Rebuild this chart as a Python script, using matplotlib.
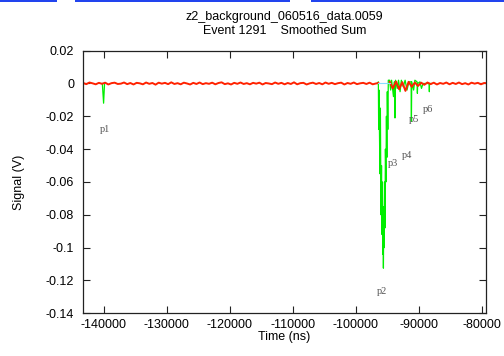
import matplotlib
matplotlib.use("Agg")
import matplotlib.pyplot as plt
from matplotlib.patches import Rectangle

plt.rcParams["font.family"] = ["Liberation Sans", "DejaVu Sans"]

# smoothed sum, baseline part before the pulse (ns, V)
red_t_left = [-143300, -142800, -142300, -141800, -141300, -140800, -140300, -139800, -139300, -138800,
              -138300, -137800, -137300, -136800, -136300, -135800, -135300, -134800, -134300, -133800,
              -133300, -132800, -132300, -131800, -131300, -130800, -130300, -129800, -129300, -128800,
              -128300, -127800, -127300, -126800, -126300, -125800, -125300, -124800, -124300, -123800,
              -123300, -122800, -122300, -121800, -121300, -120800, -120300, -119800, -119300, -118800,
              -118300, -117800, -117300, -116800, -116300, -115800, -115300, -114800, -114300, -113800,
              -113300, -112800, -112300, -111800, -111300, -110800, -110300, -109800, -109300, -108800,
              -108300, -107800, -107300, -106800, -106300, -105800, -105300, -104800, -104300, -103800,
              -103300, -102800, -102300, -101800, -101300, -100800, -100300, -99800, -99300, -98800,
              -98300, -97800, -97300, -96800, -96400]
red_v_left = [0.0003, -0.0004, 0.0006, 0.0001, -0.0005, 0.0004, -0.0002, 0.0005, -0.0006, 0.0002,
              0.0005, -0.0003, -0.0001, 0.0006, -0.0004, 0.0003, -0.0006, 0.0004, 0.0001, -0.0005,
              0.0006, -0.0002, 0.0003, -0.0007, 0.0005, -0.0001, 0.0004, -0.0004, 0.0007, -0.0003,
              0.0002, -0.0005, 0.0005, 0.0000, -0.0006, 0.0004, -0.0003, 0.0006, -0.0004, 0.0002,
              -0.0002, 0.0005, -0.0005, 0.0003, 0.0007, -0.0004, 0.0001, -0.0006, 0.0004, -0.0002,
              0.0006, -0.0003, 0.0002, -0.0005, 0.0004, -0.0001, 0.0005, -0.0006, 0.0003, 0.0000,
              -0.0004, 0.0006, -0.0002, 0.0004, -0.0005, 0.0003, -0.0003, 0.0007, -0.0005, 0.0002,
              0.0004, -0.0006, 0.0001, 0.0005, -0.0003, 0.0003, -0.0005, 0.0006, -0.0002, 0.0004,
              -0.0004, 0.0002, 0.0005, -0.0006, 0.0003, -0.0002, 0.0006, -0.0004, 0.0001, 0.0004,
              -0.0003, 0.0005, -0.0005, 0.0000, 0.0003]

# smoothed sum after the pulse
red_t_right = [-94600, -94100, -93600, -93100, -92600, -92100, -91600, -91100, -90600, -90100,
               -89600, -89100, -88600, -88100, -87600, -87100, -86600, -86100, -85600, -85100,
               -84600, -84100, -83600, -83100, -82600, -82100, -81600, -81100, -80600, -80100,
               -79600, -79300]
red_v_right = [0.0010, -0.0030, 0.0012, -0.0035, 0.0008, -0.0045, 0.0010, -0.0020, 0.0006, -0.0015,
               0.0005, -0.0008, 0.0006, -0.0004, 0.0005, -0.0006, 0.0003, -0.0002, 0.0006, -0.0005,
               0.0004, -0.0003, 0.0006, -0.0004, 0.0002, -0.0006, 0.0005, -0.0001, 0.0004, -0.0005,
               0.0003, 0.0002]

# baseline segment under the pulse
cyan_t = [-96400, -94600]
cyan_v = [0.0, 0.0]

# pulse p1
p1_t = [-140250, -140050, -139900]
p1_v = [0.0, -0.012, 0.0]

# main pulse train (p2 .. p6)
pulse_t = [-96600, -96400, -96350, -96300, -96150, -96080, -95980, -95900, -95820, -95760,
           -95700, -95650, -95600, -95550, -95480, -95420, -95350, -95280, -95200, -95120,
           -95050, -94980, -94900, -94820, -94600, -94450, -94300, -94000, -93850, -93760,
           -93680, -93400, -93200, -92950, -92750, -92450, -92150, -91850, -91550, -91200,
           -91150, -91100, -90800, -90600, -90250, -90200, -90150, -89800, -89550, -89300,
           -88320, -88300, -88280, -88000]
pulse_v = [0.0, 0.001, -0.028, -0.004, -0.055, -0.015, -0.080, -0.050, -0.092, -0.060,
           -0.104, -0.075, -0.1125, -0.085, -0.100, -0.060, -0.088, -0.040, -0.060, -0.020,
           -0.045, -0.005, -0.028, 0.002, 0.002, -0.004, 0.002, -0.008, 0.001, -0.021,
           0.002, -0.003, 0.002, -0.005, 0.002, -0.002, 0.002, -0.004, 0.001, 0.001,
           -0.023, 0.001, -0.004, 0.002, 0.001, -0.006, 0.0, 0.001, -0.003, 0.0,
           0.0, -0.005, 0.0, 0.0]

labels = ["p1", "p2", "p3", "p4", "p5", "p6"]
label_t = [-139900, -95900, -94100, -91800, -90750, -88450]
label_v = [-0.028, -0.127, -0.049, -0.044, -0.022, -0.016]

fig = plt.figure(figsize=(5.04, 3.56), dpi=100)
ax = fig.add_axes([0.1637, 0.1199, 0.8006, 0.7378])

# window bar along the top edge
for x0, w in [(0, 57), (75, 215), (311, 193)]:
    fig.patches.append(Rectangle((x0 / 504, 1 - 2 / 356), w / 504, 2 / 356,
                                 transform=fig.transFigure, color="#2244ee", lw=0))

ax.plot(p1_t, p1_v, color="#00ee00", lw=0.9)
ax.plot(pulse_t, pulse_v, color="#00ee00", lw=0.9)
ax.plot(red_t_left, red_v_left, color="#ff2200", lw=1.4)
ax.plot(red_t_right, red_v_right, color="#ff2200", lw=1.4)
ax.plot(cyan_t, cyan_v, color="#88ddff", lw=0.8)

for lab, t, v in zip(labels, label_t, label_v):
    ax.text(t, v, lab, ha="center", va="center", fontsize=7.5,
            family=["Liberation Serif", "DejaVu Serif"], color="#555555")

ax.set_xlim(-143400, -79300)
ax.set_ylim(-0.14, 0.02)
ax.set_xticks([-140000, -130000, -120000, -110000, -100000, -90000, -80000])
ax.set_yticks([0.02, 0, -0.02, -0.04, -0.06, -0.08, -0.1, -0.12, -0.14])
ax.set_yticklabels(["0.02", "0", "-0.02", "-0.04", "-0.06", "-0.08", "-0.1", "-0.12", "-0.14"])
ax.set_xticklabels(["-140000", "-130000", "-120000", "-110000", "-100000", "-90000", "-80000"])
ax.tick_params(direction="in", length=5, width=0.8, top=True, right=True,
               labelsize=9, color="#222222")
ax.tick_params(axis="x", pad=4)
ax.tick_params(axis="y", pad=6)
for s in ax.spines.values():
    s.set_linewidth(0.9)
    s.set_color("#222222")

ax.set_xlabel("Time (ns)", fontsize=9, labelpad=0)
ax.set_ylabel("Signal (V)", fontsize=9, labelpad=15)
ax.set_title("z2_background_060516_data.0059\nEvent 1291    Smoothed Sum",
             fontsize=9, linespacing=1.2, pad=12)

fig.savefig("out.png", dpi=100)
